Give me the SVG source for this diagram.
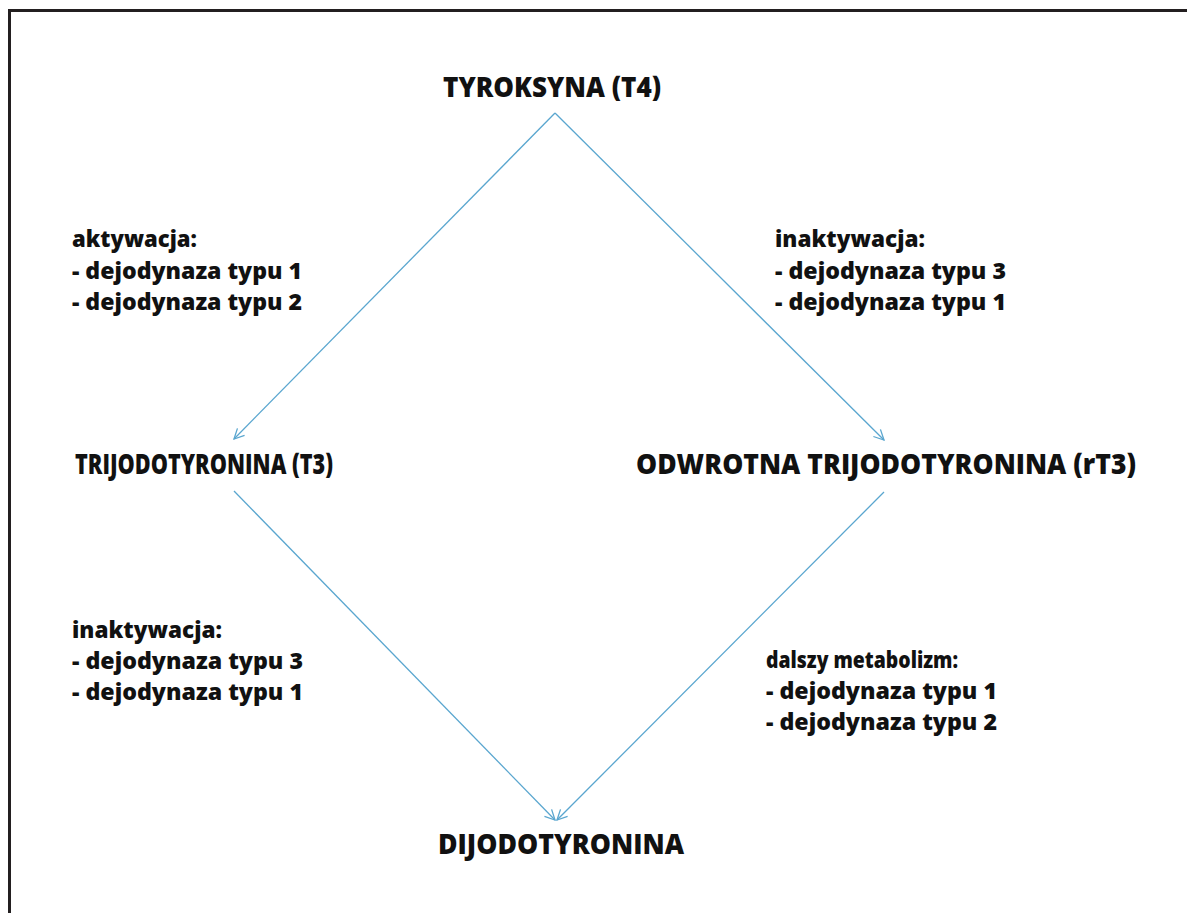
<svg xmlns="http://www.w3.org/2000/svg" width="1187" height="913" viewBox="0 0 1187 913">
  <style>
    .node { font-family: "Open Sans", Lato, "Liberation Sans", sans-serif; font-weight: 800; font-size: 28px; fill: #111; }
    .lbl { font-family: "Open Sans", Lato, "Liberation Sans", sans-serif; font-weight: 800; font-size: 23px; fill: #111; }
    .edge { stroke: #5aa6cf; stroke-width: 1.3; fill: none; marker-end: url(#arrow); }
  </style>
  <defs>
    <marker id="arrow" viewBox="0 0 12 12" refX="11" refY="6" markerWidth="12" markerHeight="12" markerUnits="userSpaceOnUse" orient="auto">
      <path d="M1,1 L11,6 L1,11" fill="none" stroke="#5aa6cf" stroke-width="1.3"/>
    </marker>
  </defs>
  <rect width="1187" height="913" fill="#fff"/>
  <!-- frame: top and left edges only -->
  <path d="M9.5,913 L9.5,10.5 L1187,10.5" fill="none" stroke="#231f20" stroke-width="3"/>

  <g id="connectors">
    <line class="edge" x1="555" y1="113" x2="234" y2="439"/>
    <line class="edge" x1="555" y1="113" x2="884" y2="440"/>
    <line class="edge" x1="234" y1="491" x2="555" y2="820"/>
    <line class="edge" x1="884" y1="492" x2="557" y2="820"/>
  </g>

  <g id="t4">
    <text class="node" x="443" y="97" textLength="218" lengthAdjust="spacingAndGlyphs">TYROKSYNA (T4)</text>
  </g>
  <g id="t3">
    <text class="node" x="75" y="474" textLength="258" lengthAdjust="spacingAndGlyphs">TRIJODOTYRONINA (T3)</text>
  </g>
  <g id="rt3">
    <text class="node" x="636" y="474" textLength="500" lengthAdjust="spacingAndGlyphs">ODWROTNA TRIJODOTYRONINA (rT3)</text>
  </g>
  <g id="t2">
    <text class="node" x="438" y="854" textLength="246" lengthAdjust="spacingAndGlyphs">DIJODOTYRONINA</text>
  </g>

  <g id="label-activation">
    <text class="lbl" x="72" y="247" textLength="125" lengthAdjust="spacingAndGlyphs">aktywacja:</text>
    <text class="lbl" x="72" y="279" textLength="230" lengthAdjust="spacingAndGlyphs">- dejodynaza typu 1</text>
    <text class="lbl" x="72" y="310" textLength="230" lengthAdjust="spacingAndGlyphs">- dejodynaza typu 2</text>
  </g>
  <g id="label-inactivation-t4">
    <text class="lbl" x="775" y="247" textLength="150" lengthAdjust="spacingAndGlyphs">inaktywacja:</text>
    <text class="lbl" x="775" y="279" textLength="231" lengthAdjust="spacingAndGlyphs">- dejodynaza typu 3</text>
    <text class="lbl" x="775" y="310" textLength="231" lengthAdjust="spacingAndGlyphs">- dejodynaza typu 1</text>
  </g>
  <g id="label-inactivation-t3">
    <text class="lbl" x="72" y="638" textLength="150" lengthAdjust="spacingAndGlyphs">inaktywacja:</text>
    <text class="lbl" x="72" y="669" textLength="231" lengthAdjust="spacingAndGlyphs">- dejodynaza typu 3</text>
    <text class="lbl" x="72" y="700" textLength="231" lengthAdjust="spacingAndGlyphs">- dejodynaza typu 1</text>
  </g>
  <g id="label-metabolism">
    <text class="lbl" x="766" y="668" textLength="192" lengthAdjust="spacingAndGlyphs">dalszy metabolizm:</text>
    <text class="lbl" x="766" y="699" textLength="231" lengthAdjust="spacingAndGlyphs">- dejodynaza typu 1</text>
    <text class="lbl" x="766" y="730" textLength="231" lengthAdjust="spacingAndGlyphs">- dejodynaza typu 2</text>
  </g>
</svg>
